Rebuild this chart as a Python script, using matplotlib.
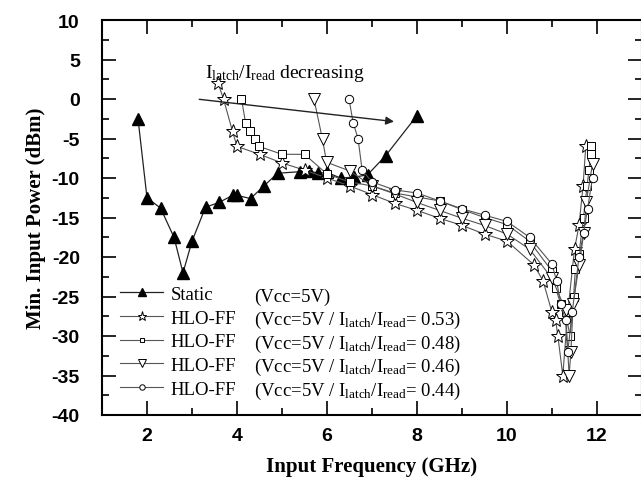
import matplotlib
matplotlib.use("Agg")
import matplotlib.pyplot as plt
from matplotlib.ticker import MultipleLocator

plt.rcParams['mathtext.fontset'] = 'stix'
plt.rcParams['axes.unicode_minus'] = False

# Static (Vcc=5V)
static_x = [1.8, 2.0, 2.3, 2.6, 2.8, 3.0, 3.3, 3.6, 3.9, 4.0, 4.3, 4.6, 4.9, 5.4, 5.6, 5.8, 6.0, 6.3, 6.6, 6.9, 7.3, 8.0]
static_y = [-2.5, -12.5, -13.8, -17.5, -22, -18, -13.7, -13.1, -12.2, -12.2, -12.6, -11, -9.4, -9.2, -9.1, -9.4, -9.3, -10, -9.9, -9.6, -7.2, -2.1]

# HLO-FF Ilatch/Iread = 0.53 (stars)
r53_x = [3.58, 3.7, 3.9, 4.0, 4.5, 5.0, 5.5, 6.0, 6.5, 7.0, 7.5, 8.0, 8.5, 9.0, 9.5, 10.0, 10.6, 10.8, 11.0, 11.08, 11.13, 11.24, 11.35, 11.5, 11.6, 11.69, 11.75]
r53_y = [2, 0, -4.1, -6, -7, -8.1, -9, -10, -11, -12.1, -13.2, -14.1, -15.1, -16, -17.1, -18, -21, -23, -27, -28, -30, -35, -27, -19, -16, -11, -6]

# 0.48 (squares)
r48_x = [4.1, 4.19, 4.29, 4.39, 4.49, 5.0, 5.5, 6.0, 6.5, 7.0, 7.5, 8.0, 8.5, 9.0, 9.5, 10.0, 10.5, 11.0, 11.08, 11.19, 11.3, 11.4, 11.48, 11.52, 11.6, 11.7, 11.78, 11.82, 11.86, 11.87]
r48_y = [0, -3, -4, -5, -6, -7, -7, -9.5, -10.5, -11, -11.9, -12.4, -12.9, -14, -15, -15.9, -18, -21.8, -23.9, -25.9, -27, -30, -25, -21.5, -19.6, -15, -11, -9, -7, -6]

# 0.46 (down triangles)
r46_x = [5.71, 5.9, 5.99, 6.5, 7.0, 7.5, 8.0, 8.5, 9.0, 9.5, 10.0, 10.5, 11.0, 11.3, 11.38, 11.42, 11.47, 11.6, 11.71, 11.76, 11.9]
r46_y = [0, -5.1, -8, -9.1, -11, -12, -13.1, -14.1, -15.1, -16, -17.1, -19, -22.7, -26.7, -35, -32, -26, -21, -16.9, -13.1, -8.2]

# 0.44 (circles)
r44_x = [6.49, 6.58, 6.69, 6.78, 7.0, 7.5, 8.0, 8.5, 9.0, 9.5, 10.0, 10.5, 11.0, 11.1, 11.2, 11.3, 11.35, 11.45, 11.6, 11.7, 11.79, 11.9]
r44_y = [0, -3, -5, -9, -10.5, -11.5, -11.9, -12.9, -13.9, -14.7, -15.5, -17.5, -20.9, -23, -26, -28, -32, -27, -20, -17, -13.9, -10]

ratios = ['0.53', '0.48', '0.46', '0.44']

fig = plt.figure(figsize=(6.41, 4.85), dpi=100)
ax = fig.add_axes([102/641, 69/485, 540/641, 395/485])

lc = '#555555'
ax.plot(static_x, static_y, '-', color='#222222', lw=0.9, marker='^', ms=9, mfc='black', mec='black', label='Static')
ax.plot(r53_x, r53_y, '-', color=lc, lw=0.8, marker='*', ms=10, mfc='white', mec='black', mew=0.7, label='HLO-FF')
ax.plot(r48_x, r48_y, '-', color=lc, lw=0.8, marker='s', ms=5.5, mfc='white', mec='black', mew=0.7, label='HLO-FF')
ax.plot(r46_x, r46_y, '-', color=lc, lw=0.8, marker='v', ms=9, mfc='white', mec='black', mew=0.7, label='HLO-FF')
ax.plot(r44_x, r44_y, '-', color=lc, lw=0.8, marker='o', ms=6, mfc='white', mec='black', mew=0.7, label='HLO-FF')

ax.set_xlim(1, 13)
ax.set_ylim(-40, 10)
ax.xaxis.set_major_locator(MultipleLocator(2))
ax.xaxis.set_minor_locator(MultipleLocator(1))
ax.yaxis.set_major_locator(MultipleLocator(5))
ax.yaxis.set_minor_locator(MultipleLocator(2.5))
ax.tick_params(which='both', direction='in', top=True, right=True, width=1.2)
ax.tick_params(which='major', length=10)
ax.tick_params(which='minor', length=5)
ax.tick_params(axis='y', which='major', pad=16)
ax.tick_params(axis='x', which='major', pad=9)
for lab in ax.get_xticklabels() + ax.get_yticklabels():
    lab.set_fontfamily('Liberation Sans')
    lab.set_fontweight('bold')
    lab.set_fontsize(14)
for sp in ax.spines.values():
    sp.set_linewidth(1.5)

ax.set_xlabel('Input Frequency (GHz)', fontfamily='Liberation Serif', fontweight='bold', fontsize=15, labelpad=8)
ax.set_ylabel('Min. Input Power (dBm)', fontfamily='Liberation Serif', fontweight='bold', fontsize=15, labelpad=4)

ax.text(3.29, 2.8, r'$\mathregular{I_{latch}/I_{read}}$ decreasing', fontfamily='Liberation Serif', fontsize=14)
ax.annotate('', xy=(7.55, -2.9), xytext=(3.1, 0),
            arrowprops=dict(arrowstyle='-|>', color='#222222', lw=1, mutation_scale=12))

leg = ax.legend(loc='lower left', bbox_to_anchor=(0.02, 0.025), frameon=False,
                prop={'family': 'Liberation Serif', 'size': 13.5},
                handlelength=2.3, handletextpad=0.4, labelspacing=0.35, markerscale=0.65, borderaxespad=0)

ax.text(0.281, 0.301, '(Vcc=5V)', transform=ax.transAxes, va='center', fontfamily='Liberation Serif', fontsize=13.5)
row_y = [0.243, 0.182, 0.122, 0.061]
for ry, r in zip(row_y, ratios):
    ax.text(0.281, ry, r'(Vcc=5V / $\mathregular{I_{latch}/I_{read}}$= ' + r + ')', transform=ax.transAxes,
            va='center', fontfamily='Liberation Serif', fontsize=13.5)

fig.savefig('out.png', dpi=100)
